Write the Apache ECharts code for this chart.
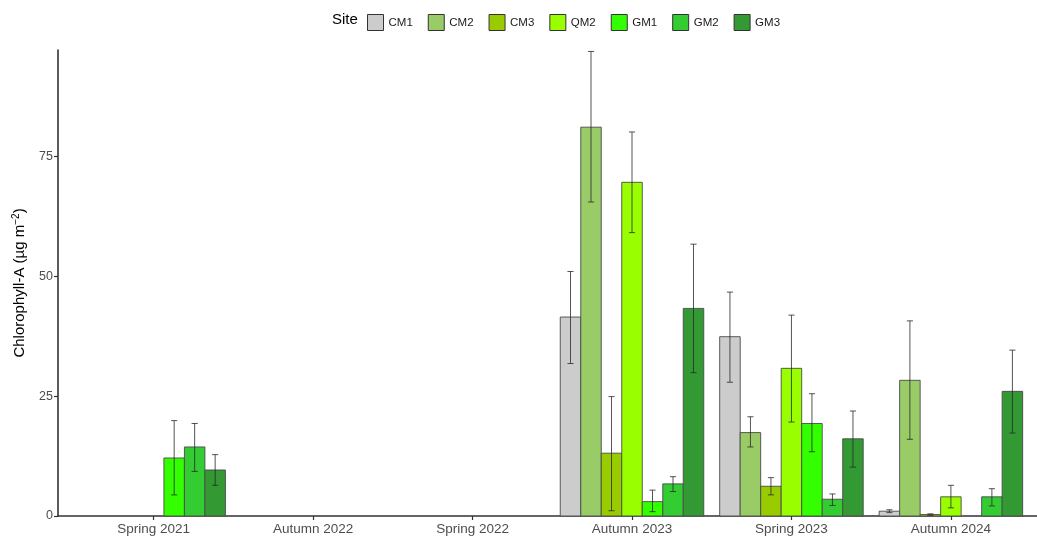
<!DOCTYPE html>
<html>
<head>
<meta charset="utf-8">
<title>Chlorophyll-A by site and season</title>
<script src="https://cdn.jsdelivr.net/npm/echarts@6/dist/echarts.min.js"></script>
<style>
  html, body { margin: 0; padding: 0; background: #ffffff; }
  #chart { width: 1037px; height: 544px; }
</style>
</head>
<body>
<div id="chart"></div>
<script>
// Sampling seasons (x categories)
const categories = ['Spring 2021', 'Autumn 2022', 'Spring 2022', 'Autumn 2023', 'Spring 2023', 'Autumn 2024'];
// Sites (dodged bars inside each season)
const sites = ['CM1', 'CM2', 'CM3', 'QM2', 'GM1', 'GM2', 'GM3'];
const siteColors = ['#cccccc', '#99cc66', '#99cc00', '#99ff00', '#33ff00', '#33cc33', '#339933'];

// Mean chlorophyll-A per site, one value per season (null = not sampled)
const meanCM1 = [null, null, null, 41.5, 37.4, 1.0];
const meanCM2 = [null, null, null, 81.1, 17.4, 28.3];
const meanCM3 = [null, null, null, 13.1, 6.2, 0.3];
const meanQM2 = [null, null, null, 69.6, 30.8, 4.0];
const meanGM1 = [12.1, null, null, 3.0, 19.3, null];
const meanGM2 = [14.4, null, null, 6.7, 3.5, 4.0];
const meanGM3 = [9.6, null, null, 43.3, 16.1, 26.0];

// Error bar lower ends
const lowCM1 = [null, null, null, 31.8, 27.9, 0.7];
const lowCM2 = [null, null, null, 65.5, 14.4, 16.0];
const lowCM3 = [null, null, null, 1.1, 4.4, 0.15];
const lowQM2 = [null, null, null, 59.1, 19.6, 1.7];
const lowGM1 = [4.4, null, null, 0.9, 13.4, null];
const lowGM2 = [9.3, null, null, 5.1, 2.2, 2.1];
const lowGM3 = [6.4, null, null, 29.9, 10.2, 17.3];

// Error bar upper ends
const highCM1 = [null, null, null, 51.0, 46.7, 1.3];
const highCM2 = [null, null, null, 96.9, 20.7, 40.7];
const highCM3 = [null, null, null, 24.9, 8.0, 0.45];
const highQM2 = [null, null, null, 80.1, 41.9, 6.4];
const highGM1 = [19.9, null, null, 5.4, 25.5, null];
const highGM2 = [19.3, null, null, 8.2, 4.6, 5.7];
const highGM3 = [12.8, null, null, 56.7, 21.9, 34.6];

// Y axis tick labels
const yTicks = [0, 25, 50, 75];

const means = [meanCM1, meanCM2, meanCM3, meanQM2, meanGM1, meanGM2, meanGM3];
const lows = [lowCM1, lowCM2, lowCM3, lowQM2, lowGM1, lowGM2, lowGM3];
const highs = [highCM1, highCM2, highCM3, highQM2, highGM1, highGM2, highGM3];

const dodgeWidth = 0.9;
const barUnit = dodgeWidth / sites.length;

function makeSeries(s) {
  const data = [];
  categories.forEach((c, i) => {
    if (means[s][i] !== null) {
      data.push([i, means[s][i], lows[s][i], highs[s][i]]);
    }
  });
  const offset = (s - (sites.length - 1) / 2) * barUnit;
  return {
    name: sites[s],
    type: 'custom',
    itemStyle: { color: siteColors[s] },
    encode: { x: 0, y: [1, 2, 3] },
    data: data,
    renderItem: function (params, api) {
      const xc = api.value(0) + offset;
      const top = api.coord([xc, api.value(1)]);
      const base = api.coord([xc, 0]);
      const lo = api.coord([xc, api.value(2)]);
      const hi = api.coord([xc, api.value(3)]);
      const w = api.size([barUnit, 0])[0];
      const cap = w * 0.15;
      return {
        type: 'group',
        children: [
          {
            type: 'rect',
            shape: { x: top[0] - w / 2, y: top[1], width: w, height: base[1] - top[1] },
            style: { fill: siteColors[s], stroke: '#4a4a4a', lineWidth: 0.9 }
          },
          {
            type: 'line',
            shape: { x1: hi[0], y1: hi[1], x2: lo[0], y2: lo[1] },
            style: { stroke: '#2a2a2a', lineWidth: 0.8 }
          },
          {
            type: 'line',
            shape: { x1: hi[0] - cap, y1: hi[1], x2: hi[0] + cap, y2: hi[1] },
            style: { stroke: '#2a2a2a', lineWidth: 0.8 }
          },
          {
            type: 'line',
            shape: { x1: lo[0] - cap, y1: lo[1], x2: lo[0] + cap, y2: lo[1] },
            style: { stroke: '#2a2a2a', lineWidth: 0.8 }
          }
        ]
      };
    }
  };
}

const chart = echarts.init(document.getElementById('chart'), null, { renderer: 'canvas' });

chart.setOption({
  backgroundColor: '#ffffff',
  animation: false,
  textStyle: { fontFamily: 'Liberation Sans, Arial, sans-serif' },
  title: {
    text: 'Site',
    left: 327,
    top: 7,
    textStyle: { fontSize: 15, fontWeight: 'normal', color: '#000000', fontFamily: 'Liberation Sans, Arial, sans-serif' }
  },
  legend: {
    data: sites,
    left: 362,
    top: 9,
    icon: 'rect',
    itemWidth: 16,
    itemHeight: 16,
    itemGap: 15,
    itemStyle: { borderColor: '#333333', borderWidth: 1 },
    textStyle: { fontSize: 11.5, color: '#1a1a1a' }
  },
  grid: { left: 58, right: 0, top: 50, bottom: 28, containLabel: false },
  xAxis: {
    type: 'value',
    min: -0.6,
    max: 5.54,
    splitLine: { show: false },
    axisLine: { show: true, onZero: false, lineStyle: { color: '#333333', width: 1.6 } },
    axisTick: { show: true, customValues: [0, 1, 2, 3, 4, 5], length: 4, lineStyle: { color: '#333333', width: 1.2 } },
    axisLabel: {
      customValues: [0, 1, 2, 3, 4, 5],
      formatter: function (v) { return categories[Math.round(v)]; },
      color: '#4d4d4d',
      fontSize: 13.5,
      margin: 6
    }
  },
  yAxis: {
    type: 'value',
    min: 0,
    max: 97.2,
    name: 'Chlorophyll-A (µg m{sup|−2})',
    nameLocation: 'middle',
    nameGap: 29,
    nameRotate: 90,
    nameTextStyle: {
      fontSize: 15,
      color: '#000000',
      rich: {
        sup: { fontSize: 10, verticalAlign: 'top', padding: [0, 0, 8, 0], color: '#000000' }
      }
    },
    splitLine: { show: false },
    axisLine: { show: true, onZero: false, lineStyle: { color: '#333333', width: 1.6 } },
    axisTick: { show: true, customValues: yTicks, length: 4, lineStyle: { color: '#333333', width: 1.2 } },
    axisLabel: { customValues: yTicks, color: '#4d4d4d', fontSize: 12.5, margin: 5 }
  },
  series: sites.map((s, i) => makeSeries(i))
});
</script>
</body>
</html>
